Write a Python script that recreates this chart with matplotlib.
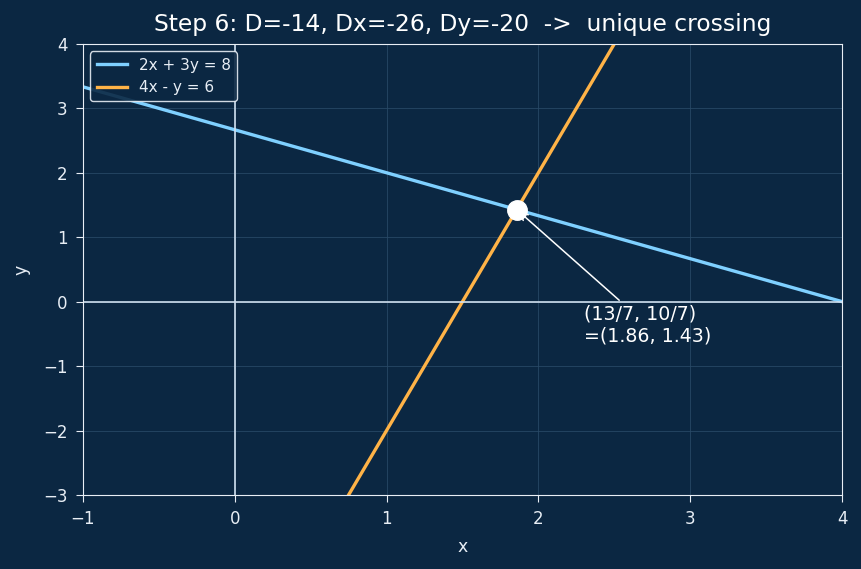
import numpy as np
import matplotlib
matplotlib.use('Agg')
from matplotlib import pyplot as plt

# lines a*x + b*y = c
eq_labels = ['2x + 3y = 8', '4x - y = 6']
coef_a = [2, 4]
coef_b = [3, -1]
coef_c = [8, 6]
line_colors = ['#7fd0ff', '#ffb347']
x_range = [-1, 4]
y_range = [-3, 4]
sol = (13/7, 10/7)

bg = '#0b2742'
fg = '#e8eef5'

fig, ax = plt.subplots(figsize=(8.62, 5.69), dpi=100)
fig.patch.set_facecolor(bg)
ax.set_facecolor(bg)

xs = np.linspace(x_range[0], x_range[1], 400)
for a, b, c, lab, col in zip(coef_a, coef_b, coef_c, eq_labels, line_colors):
    ax.plot(xs, (c - a * xs) / b, color=col, lw=2.4, label=lab)

ax.axhline(0, color='#cfe0f0', lw=1.2)
ax.axvline(0, color='#cfe0f0', lw=1.2)
ax.grid(True, color='#2a4a68', lw=0.7, alpha=0.8)

ax.plot([sol[0]], [sol[1]], 'o', color='white', ms=14, zorder=5)
ax.annotate('(13/7, 10/7)\n=(1.86, 1.43)', xy=sol, xytext=(2.3, -0.05),
            color='white', fontsize=13.7, va='top',
            arrowprops=dict(arrowstyle='->', color='white', lw=1.1))

ax.set_xlim(x_range)
ax.set_ylim(y_range)
ax.set_xlabel('x', color=fg, fontsize=12.5, labelpad=7)
ax.set_ylabel('y', color=fg, fontsize=12.5, labelpad=9)
ax.set_title('Step 6: D=-14, Dx=-26, Dy=-20  ->  unique crossing', color='white', fontsize=16.8, pad=9.5)
ax.tick_params(colors=fg, labelsize=12, pad=6, length=5)
for s in ax.spines.values():
    s.set_color(fg)

leg = ax.legend(loc='upper left', fontsize=11, facecolor=bg, edgecolor=fg, labelcolor=fg)
leg.get_frame().set_alpha(0.9)

plt.subplots_adjust(left=0.096, right=0.977, top=0.923, bottom=0.13)
fig.savefig('out.png', facecolor=bg)
